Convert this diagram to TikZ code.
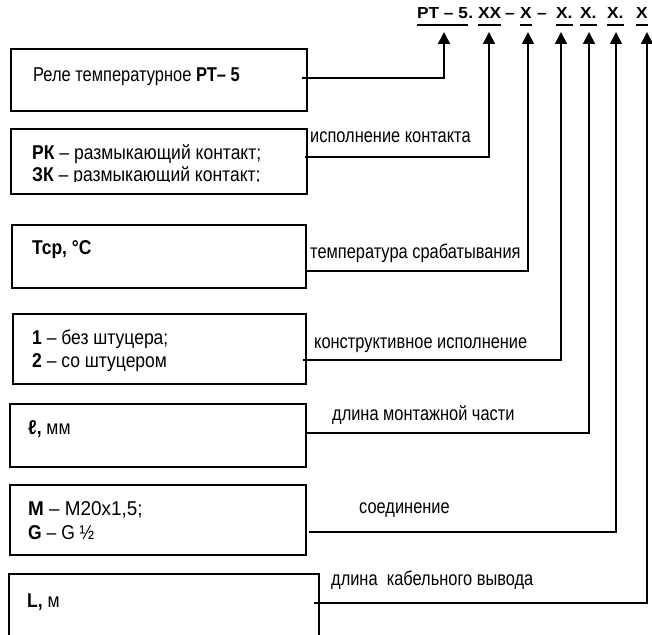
\documentclass[tikz,border=0pt]{standalone}
\usepackage{fontspec}
\setmainfont{Liberation Sans}
\newfontfamily\boxfont[FakeStretch=0.875]{Liberation Sans}
\newfontfamily\lblfont[FakeStretch=0.82]{Liberation Sans}
\newfontfamily\hdrfont[FakeStretch=1.08]{Liberation Sans}
\usetikzlibrary{arrows.meta}
\tikzset{
  frame/.style={draw, line width=1.7pt, inner sep=0pt, anchor=north west},
  wire/.style={line width=1.7pt, -{Triangle[width=12pt,length=12pt]}},
  btxt/.style={inner sep=0pt, anchor=base west, font=\boxfont\fontsize{20}{23}\selectfont},
  ltxt/.style={inner sep=0pt, anchor=base west, font=\lblfont\fontsize{20}{23}\selectfont},
  htxt/.style={inner sep=0pt, anchor=base west, font=\hdrfont\bfseries\fontsize{16}{18}\selectfont},
  uline/.style={line width=1.7pt}
}
\begin{document}
\begin{tikzpicture}[x=1pt,y=-1pt]
\useasboundingbox (0,0) rectangle (652,634);
\clip (0,0) rectangle (652,634);
% header
\node[htxt] (h1) at (417,19) {РТ – 5};
\node[htxt] (hd1) at (h1.base east) {.};
\node[htxt] (h2) at (478,19) {XX};
\node[htxt] (hd2) at (505,19) {–};
\node[htxt] (h3) at (520,19) {X};
\node[htxt] (hd3) at (537,19) {–};
\node[htxt] (h4) at (556,19) {X.};
\node[htxt] (h5) at (580,19) {X.};
\node[htxt] (h6) at (607,19) {X.};
\node[htxt] (h7) at (636,19) {X};
\foreach \n in {h1,h2,h3,h4,h5,h6,h7}
  \draw[uline] ([yshift=-6pt]\n.base west) -- ([yshift=-6pt]\n.base east);
% arrow tips
\coordinate (p1) at (444,32);
\coordinate (p2) at (489,32);
\coordinate (p3) at (528,32);
\coordinate (p4) at (561,32);
\coordinate (p5) at (589,32);
\coordinate (p6) at (616,32);
\coordinate (p7) at (647,32);
% boxes
\node[frame, minimum width=296pt, minimum height=62pt] (b1) at (10,48) {};
\node[frame, minimum width=296pt, minimum height=65pt] (b2) at (10,128) {};
\node[frame, minimum width=294pt, minimum height=63pt] (b3) at (11,224) {};
\node[frame, minimum width=293pt, minimum height=70pt] (b4) at (12,313) {};
\node[frame, minimum width=296pt, minimum height=63pt] (b5) at (9,403) {};
\node[frame, minimum width=296pt, minimum height=70pt] (b6) at (9,484) {};
\node[frame, minimum width=310pt, minimum height=80pt] (b7) at (8,573) {};
% box texts
\node[btxt] (t1) at (33,81) {\scalebox{0.94}[1]{Реле температурное \textbf{РТ– 5}}};
\begin{scope}
\clip (10,128) rectangle (306,181);
\node[btxt] (t2a) at (32,159.5) {\textbf{РК} – размыкающий контакт;};
\node[btxt] (t2b) at (32,181) {\textbf{ЗК} – размыкающий контакт;};
\end{scope}
\node[btxt] (t3) at (32,254) {\textbf{Тср, °C}};
\node[btxt] (t4a) at (32,344) {\textbf{1} – без штуцера;};
\node[btxt] (t4b) at (32,367) {\textbf{2} – со штуцером};
\node[btxt] (t5) at (28,434) {\textbf{ℓ,} мм};
\node[btxt] (t6a) at (28,515) {\scalebox{1.08}[1]{\textbf{M} – M20x1,5;}};
\node[btxt] (t6b) at (28,539) {\textbf{G} – G ½};
\node[btxt] (t7) at (27,607) {\textbf{L,} м};
% labels
\node[ltxt] (l2) at (310,142.5) {исполнение контакта};
\node[ltxt] (l3) at (310,258.5) {температура срабатывания};
\node[ltxt] (l4) at (314,348.5) {конструктивное исполнение};
\node[ltxt] (l5) at (332,420.5) {длина монтажной части};
\node[ltxt] (l6) at (359,513.5) {соединение};
\node[ltxt] (l7) at (331,585.5) {длина\ \ кабельного вывода};
% connector starts
\coordinate (s1) at (302,78);
\coordinate (s2) at (305,157);
\coordinate (s3) at (305,271);
\coordinate (s4) at (303,360);
\coordinate (s5) at (305,433);
\coordinate (s6) at (309,532);
\coordinate (s7) at (314,603);
\foreach \i in {1,...,7}
  \draw[wire] (s\i) -| (p\i);
\end{tikzpicture}
\end{document}
